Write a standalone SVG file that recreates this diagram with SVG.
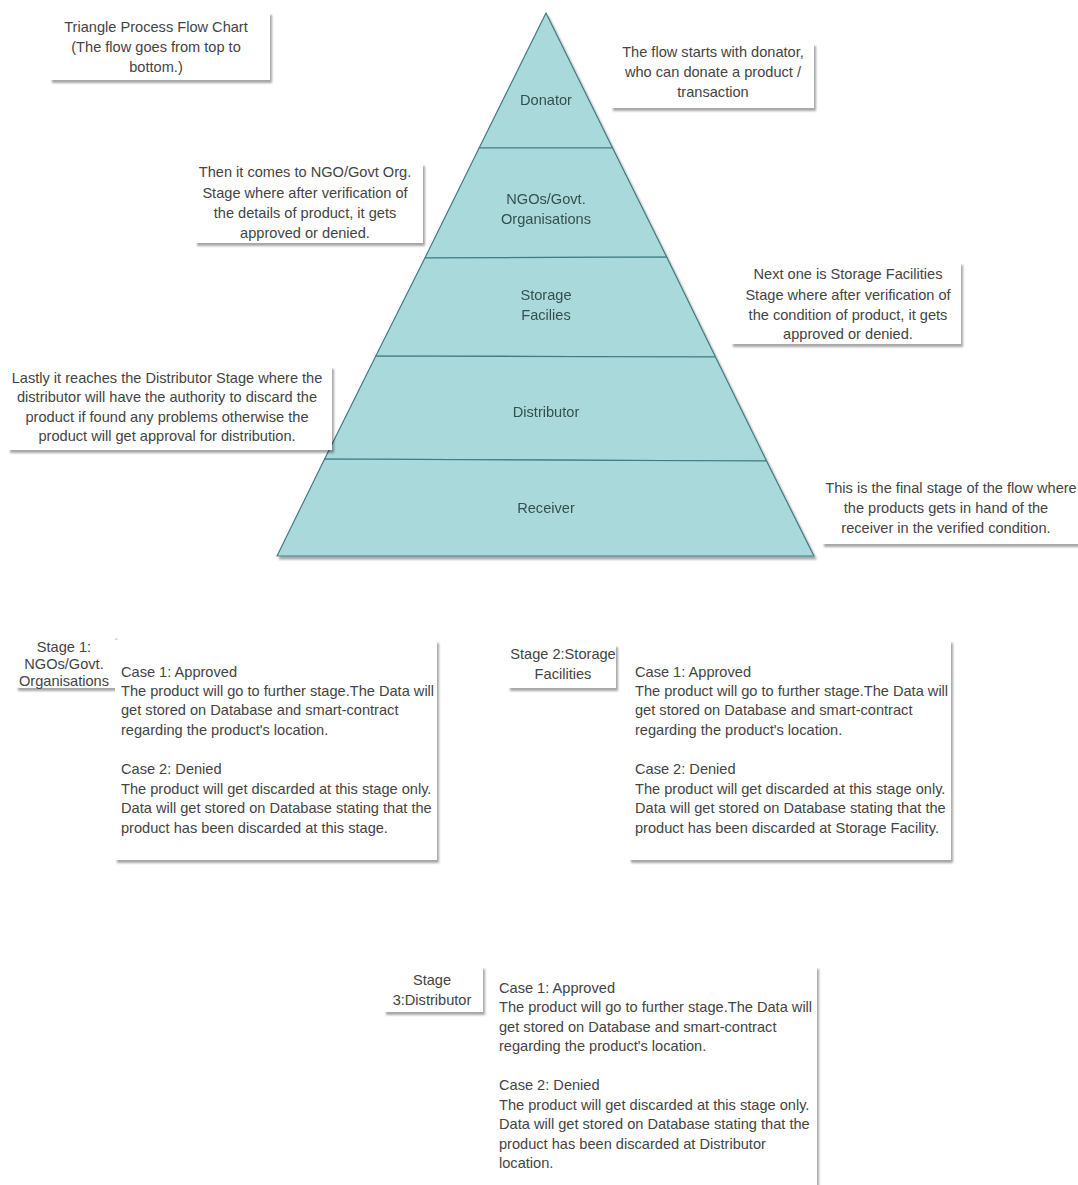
<svg xmlns="http://www.w3.org/2000/svg" width="1078" height="1185" viewBox="0 0 1078 1185">
<defs>
<filter id="sh" x="-10%" y="-10%" width="130%" height="130%">
<feDropShadow dx="2" dy="3" stdDeviation="1.2" flood-color="#000" flood-opacity="0.35"/>
</filter>
</defs>
<style>
.note{fill:#ffffff;filter:url(#sh);}
.t{font-family:"Liberation Sans",Arial,sans-serif;font-size:14.6px;fill:#444444;}
.c{text-anchor:middle;}
.stage{fill:#aad9db;stroke:#3f7c82;stroke-width:1.2;stroke-linejoin:round;}
.lbl{font-family:"Liberation Sans",Arial,sans-serif;font-size:14.6px;fill:#35504f;text-anchor:middle;}
</style>
<rect width="1078" height="1185" fill="#ffffff"/>

<g id="title-note">
<rect class="note" x="50" y="12" width="220" height="68"/>
<text class="t c" x="156" y="32">Triangle Process Flow Chart</text>
<text class="t c" x="156" y="52">(The flow goes from top to</text>
<text class="t c" x="156" y="72">bottom.)</text>
</g>

<g id="pyramid" filter="url(#sh)">
<g id="donator">
<polygon class="stage" points="546,13 612.6,148 479.1,148"/>
<text class="lbl" x="546" y="105">Donator</text>
</g>
<g id="ngo">
<polygon class="stage" points="479.1,148 612.6,148 666.7,257 424.9,258"/>
<text class="lbl" x="546" y="204">NGOs/Govt.</text>
<text class="lbl" x="546" y="224">Organisations</text>
</g>
<g id="storage">
<polygon class="stage" points="424.9,258 666.7,257 715.5,357 375.8,356"/>
<text class="lbl" x="546" y="300">Storage</text>
<text class="lbl" x="546" y="320">Facilies</text>
</g>
<g id="distributor">
<polygon class="stage" points="375.8,356 715.5,357 766.6,461 324.6,459"/>
<text class="lbl" x="546" y="417">Distributor</text>
</g>
<g id="receiver">
<polygon class="stage" points="324.6,459 766.6,461 814,556 277,556"/>
<text class="lbl" x="546" y="513">Receiver</text>
</g>
</g>

<g id="donator-note">
<rect class="note" x="611" y="43" width="203" height="65"/>
<text class="t c" x="713" y="57">The flow starts with donator,</text>
<text class="t c" x="713" y="77">who can donate a product /</text>
<text class="t c" x="713" y="97">transaction</text>
</g>

<g id="ngo-note">
<rect class="note" x="195" y="163" width="228" height="80"/>
<text class="t c" x="305" y="177">Then it comes to NGO/Govt Org.</text>
<text class="t c" x="305" y="198">Stage where after verification of</text>
<text class="t c" x="305" y="218">the details of product, it gets</text>
<text class="t c" x="305" y="238">approved or denied.</text>
</g>

<g id="storage-note">
<rect class="note" x="731" y="262" width="230" height="82"/>
<text class="t c" x="848" y="279">Next one is Storage Facilities</text>
<text class="t c" x="848" y="300">Stage where after verification of</text>
<text class="t c" x="848" y="320">the condition of product, it gets</text>
<text class="t c" x="848" y="339">approved or denied.</text>
</g>

<g id="distributor-note">
<rect class="note" x="8" y="366" width="324" height="84"/>
<text class="t c" x="167" y="383">Lastly it reaches the Distributor Stage where the</text>
<text class="t c" x="167" y="402">distributor will have the authority to discard the</text>
<text class="t c" x="167" y="422">product if found any problems otherwise the</text>
<text class="t c" x="167" y="441">product will get approval for distribution.</text>
</g>

<g id="receiver-note">
<rect class="note" x="822" y="476" width="270" height="68"/>
<text class="t c" x="951" y="493">This is the final stage of the flow where</text>
<text class="t c" x="946" y="513">the products gets in hand of the</text>
<text class="t c" x="946" y="533">receiver in the verified condition.</text>
</g>

<g id="stage1-label">
<rect class="note" x="16" y="636" width="99" height="52"/>
<text class="t c" x="64" y="652">Stage 1:</text>
<text class="t c" x="64" y="669">NGOs/Govt.</text>
<text class="t c" x="64" y="686">Organisations</text>
</g>
<g id="stage1-box">
<rect class="note" x="115" y="640" width="322" height="220"/>
<text class="t" x="121" y="677">Case 1: Approved</text>
<text class="t" x="121" y="696">The product will go to further stage.The Data will</text>
<text class="t" x="121" y="715">get stored on Database and smart-contract</text>
<text class="t" x="121" y="735">regarding the product's location.</text>
<text class="t" x="121" y="774">Case 2: Denied</text>
<text class="t" x="121" y="794">The product will get discarded at this stage only.</text>
<text class="t" x="121" y="813">Data will get stored on Database stating that the</text>
<text class="t" x="121" y="833">product has been discarded at this stage.</text>
</g>

<g id="stage2-label">
<rect class="note" x="508" y="644" width="108" height="44"/>
<text class="t c" x="563" y="659">Stage 2:Storage</text>
<text class="t c" x="563" y="679">Facilities</text>
</g>
<g id="stage2-box">
<rect class="note" x="629" y="640" width="322" height="220"/>
<text class="t" x="635" y="677">Case 1: Approved</text>
<text class="t" x="635" y="696">The product will go to further stage.The Data will</text>
<text class="t" x="635" y="715">get stored on Database and smart-contract</text>
<text class="t" x="635" y="735">regarding the product's location.</text>
<text class="t" x="635" y="774">Case 2: Denied</text>
<text class="t" x="635" y="794">The product will get discarded at this stage only.</text>
<text class="t" x="635" y="813">Data will get stored on Database stating that the</text>
<text class="t" x="635" y="833">product has been discarded at Storage Facility.</text>
</g>

<g id="stage3-label">
<rect class="note" x="384" y="966" width="99" height="46"/>
<text class="t c" x="432" y="985">Stage</text>
<text class="t c" x="432" y="1005">3:Distributor</text>
</g>
<g id="stage3-box">
<rect class="note" x="493" y="966" width="324" height="235"/>
<text class="t" x="499" y="993">Case 1: Approved</text>
<text class="t" x="499" y="1012">The product will go to further stage.The Data will</text>
<text class="t" x="499" y="1032">get stored on Database and smart-contract</text>
<text class="t" x="499" y="1051">regarding the product's location.</text>
<text class="t" x="499" y="1090">Case 2: Denied</text>
<text class="t" x="499" y="1110">The product will get discarded at this stage only.</text>
<text class="t" x="499" y="1129">Data will get stored on Database stating that the</text>
<text class="t" x="499" y="1149">product has been discarded at Distributor</text>
<text class="t" x="499" y="1168">location.</text>
</g>

<g id="connectors"></g>
</svg>
